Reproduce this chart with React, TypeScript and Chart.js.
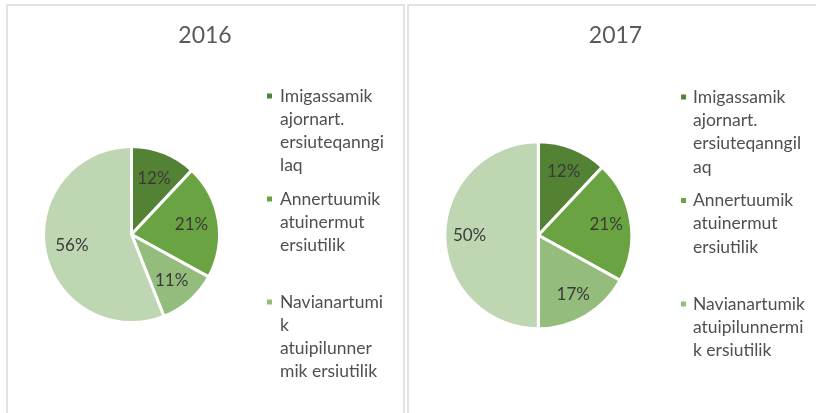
import React, { useEffect, useRef } from "react";
import { Chart, registerables } from "chart.js";

Chart.register(...registerables);

// ---- data ----
const years = ["2016", "2017"];
const legend2016 = [
  ["Imigassamik", "ajornart.", "ersiuteqanngi", "laq"],
  ["Annertuumik", "atuinermut", "ersiutilik"],
  ["Navianartumi", "k", "atuipilunner", "mik ersiutilik"],
  [],
];
const legend2017 = [
  ["Imigassamik", "ajornart.", "ersiuteqanngil", "aq"],
  ["Annertuumik", "atuinermut", "ersiutilik"],
  ["Navianartumik", "atuipilunnermi", "k ersiutilik"],
  [],
];
const values2016 = [12, 21, 11, 56];
const values2017 = [12, 21, 17, 50];
const sliceColors = ["#548235", "#6aa442", "#94bd7d", "#bfd6b2"];

const FONT = "Lato, 'Open Sans', sans-serif";

const panelPlugin = {
  id: "panelText",
  afterDatasetsDraw(chart: any, _args: any, opts: any) {
    const ctx = chart.ctx;
    const meta = chart.getDatasetMeta(0);
    const ds = chart.data.datasets[0];
    ctx.save();
    // percentage labels
    ctx.font = `${opts.labelSize}px ${FONT}`;
    ctx.fillStyle = "#3a3a3a";
    ctx.textAlign = "center";
    ctx.textBaseline = "middle";
    meta.data.forEach((arc: any, i: number) => {
      const p = arc.getProps(["x", "y", "startAngle", "endAngle", "outerRadius"], true);
      const mid = (p.startAngle + p.endAngle) / 2;
      const r = p.outerRadius * opts.labelFactor;
      ctx.fillText(ds.data[i] + "%", p.x + Math.cos(mid) * r, p.y + Math.sin(mid) * r);
    });
    // title
    ctx.font = `${opts.titleSize}px ${FONT}`;
    ctx.fillStyle = "#595959";
    ctx.fillText(opts.title, opts.titleX, opts.titleY);
    // legend
    ctx.textAlign = "left";
    ctx.font = `${opts.legendSize}px ${FONT}`;
    const labels: string[][] = chart.data.labels;
    labels.forEach((lines: string[], i: number) => {
      if (!lines || lines.length === 0) return;
      const y0 = opts.legendY + i * opts.legendStep;
      ctx.fillStyle = ds.backgroundColor[i];
      ctx.fillRect(opts.boxX, y0 - opts.boxSize / 2, opts.boxSize, opts.boxSize);
      ctx.fillStyle = "#505050";
      lines.forEach((ln: string, j: number) => {
        ctx.fillText(ln, opts.textX, y0 + j * opts.lineHeight);
      });
    });
    ctx.restore();
  },
};

type PanelProps = {
  title: string;
  labels: string[][];
  values: number[];
  width: number;
  height: number;
  cx: number;
  cy: number;
  radius: number;
  labelFactor: number;
  titleX: number;
  boxX: number;
  textX: number;
  legendY: number;
  legendStep: number;
  lineHeight: number;
};

function PiePanel(p: PanelProps) {
  const ref = useRef<HTMLCanvasElement>(null);
  useEffect(() => {
    if (!ref.current) return;
    const half = 10;
    const chart = new Chart(ref.current, {
      type: "pie",
      data: {
        labels: p.labels as any,
        datasets: [
          {
            data: p.values,
            backgroundColor: sliceColors,
            borderColor: "#ffffff",
            borderWidth: 3,
            radius: p.radius,
          } as any,
        ],
      },
      options: {
        responsive: false,
        animation: false,
        events: [],
        layout: {
          padding: {
            left: p.cx - half,
            right: p.width - p.cx - half,
            top: p.cy - half,
            bottom: p.height - p.cy - half,
          },
        },
        plugins: {
          legend: { display: false },
          tooltip: { enabled: false },
          title: { display: false },
          panelText: {
            title: p.title,
            titleX: p.titleX,
            titleY: 30,
            titleSize: 23,
            labelSize: 17,
            labelFactor: p.labelFactor,
            legendSize: 17.5,
            boxX: p.boxX,
            boxSize: 5,
            textX: p.textX,
            legendY: p.legendY,
            legendStep: p.legendStep,
            lineHeight: p.lineHeight,
          },
        } as any,
      },
      plugins: [panelPlugin],
    });
    return () => chart.destroy();
  }, []);
  return <canvas ref={ref} width={p.width} height={p.height} style={{ display: "block" }} />;
}

export default function App() {
  const border = "2px solid #e3e3e3";
  return (
    <div style={{ position: "fixed", left: 0, top: 0, width: 816, height: 413, overflow: "hidden", background: "#fff" }}>
      <div style={{ position: "absolute", left: 6, top: 4, width: 399, height: 430, boxSizing: "border-box", borderTop: border, borderLeft: border, borderRight: border }} />
      <div style={{ position: "absolute", left: 407, top: 4, width: 430, height: 430, boxSizing: "border-box", borderTop: border, borderLeft: border }} />
      <div style={{ position: "absolute", left: 8, top: 6 }}>
        <PiePanel
          title={years[0]}
          labels={legend2016}
          values={values2016}
          width={395}
          height={407}
          cx={123.5}
          cy={228.5}
          radius={88}
          labelFactor={0.69}
          titleX={197}
          boxX={259}
          textX={272}
          legendY={90}
          legendStep={103}
          lineHeight={23}
        />
      </div>
      <div style={{ position: "absolute", left: 409, top: 6 }}>
        <PiePanel
          title={years[1]}
          labels={legend2017}
          values={values2017}
          width={407}
          height={407}
          cx={129.3}
          cy={229.3}
          radius={93.5}
          labelFactor={0.735}
          titleX={206.5}
          boxX={272}
          textX={284}
          legendY={91}
          legendStep={103.5}
          lineHeight={23.3}
        />
      </div>
    </div>
  );
}
